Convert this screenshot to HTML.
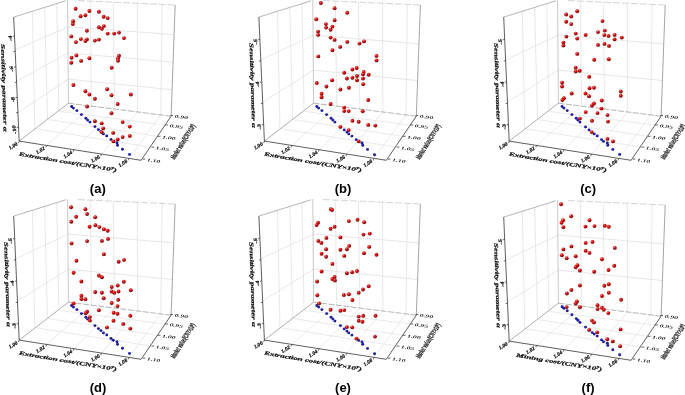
<!DOCTYPE html>
<html><head><meta charset="utf-8"><title>Figure</title>
<style>html,body{margin:0;padding:0;background:#fff}svg{display:block}</style></head><body>
<svg width="685" height="395" viewBox="0 0 685 395">
<defs>
<radialGradient id="rg" cx="0.35" cy="0.3" r="0.7"><stop offset="0" stop-color="#ff8a80"/><stop offset="0.35" stop-color="#e01818"/><stop offset="1" stop-color="#7a0000"/></radialGradient>
<radialGradient id="bg" cx="0.4" cy="0.35" r="0.7"><stop offset="0" stop-color="#3030d0"/><stop offset="1" stop-color="#000070"/></radialGradient>
<filter id="bl" x="0" y="0" width="100%" height="100%" filterUnits="userSpaceOnUse"><feGaussianBlur stdDeviation="0.45"/></filter>
</defs>
<rect width="685" height="395" fill="#fff"/>
<g filter="url(#bl)">
<g transform="translate(0,0)">
<line x1="32.30" y1="11.20" x2="34.80" y2="129.08" stroke="#dcdcdc" stroke-width="0.65" />
<line x1="44.60" y1="7.30" x2="47.50" y2="119.30" stroke="#dcdcdc" stroke-width="0.65" />
<line x1="56.70" y1="3.46" x2="58.90" y2="110.52" stroke="#dcdcdc" stroke-width="0.65" />
<line x1="90.20" y1="1.05" x2="91.50" y2="106.12" stroke="#dcdcdc" stroke-width="0.65" />
<line x1="113.20" y1="2.12" x2="114.60" y2="109.05" stroke="#dcdcdc" stroke-width="0.65" />
<line x1="137.30" y1="3.24" x2="137.70" y2="111.97" stroke="#dcdcdc" stroke-width="0.65" />
<line x1="162.10" y1="4.39" x2="160.80" y2="114.90" stroke="#dcdcdc" stroke-width="0.65" />
<line x1="68.40" y1="26.90" x2="174.11" y2="34.60" stroke="#dadada" stroke-width="0.65" />
<line x1="68.40" y1="26.90" x2="15.16" y2="49.90" stroke="#dcdcdc" stroke-width="0.65" />
<line x1="68.40" y1="52.90" x2="173.09" y2="62.20" stroke="#dadada" stroke-width="0.65" />
<line x1="68.40" y1="52.90" x2="16.55" y2="81.27" stroke="#dcdcdc" stroke-width="0.65" />
<line x1="68.40" y1="79.10" x2="172.07" y2="89.80" stroke="#dadada" stroke-width="0.65" />
<line x1="68.40" y1="79.10" x2="17.93" y2="112.57" stroke="#dcdcdc" stroke-width="0.65" />
<line x1="46.60" y1="145.40" x2="91.50" y2="106.10" stroke="#dcdcdc" stroke-width="0.6" />
<line x1="74.00" y1="149.70" x2="114.60" y2="109.00" stroke="#dcdcdc" stroke-width="0.6" />
<line x1="101.50" y1="154.10" x2="137.70" y2="112.00" stroke="#dcdcdc" stroke-width="0.6" />
<line x1="128.90" y1="158.40" x2="160.80" y2="114.90" stroke="#dcdcdc" stroke-width="0.6" />
<line x1="59.30" y1="111.40" x2="165.40" y2="125.10" stroke="#dcdcdc" stroke-width="0.6" />
<line x1="48.50" y1="119.60" x2="157.90" y2="136.40" stroke="#dcdcdc" stroke-width="0.6" />
<line x1="36.50" y1="128.90" x2="151.60" y2="147.20" stroke="#dcdcdc" stroke-width="0.6" />
<line x1="67.60" y1="0.00" x2="68.40" y2="103.20" stroke="#b0b0b0" stroke-width="0.7" />
<line x1="78.00" y1="0.55" x2="175.20" y2="5.00" stroke="#b8b8b8" stroke-width="0.6" stroke-dasharray="7 2"/>
<line x1="68.40" y1="103.20" x2="171.10" y2="116.20" stroke="#8c8c8c" stroke-width="0.65" stroke-dasharray="6 1.5"/>
<line x1="19.20" y1="141.10" x2="68.40" y2="103.20" stroke="#8c8c8c" stroke-width="0.7" />
<line x1="13.70" y1="17.10" x2="65.80" y2="0.80" stroke="#969696" stroke-width="0.7" />
<line x1="175.20" y1="5.00" x2="171.10" y2="116.20" stroke="#808080" stroke-width="0.7" />
<line x1="13.70" y1="17.10" x2="19.20" y2="141.10" stroke="#2a2a2a" stroke-width="0.75" />
<line x1="19.20" y1="141.10" x2="141.10" y2="160.30" stroke="#2a2a2a" stroke-width="0.75" />
<line x1="171.10" y1="116.20" x2="141.10" y2="160.30" stroke="#2a2a2a" stroke-width="0.75" />
<line x1="170.40" y1="115.60" x2="173.00" y2="115.40" stroke="#2a2a2a" stroke-width="0.7" />
<line x1="165.40" y1="125.10" x2="168.00" y2="124.90" stroke="#2a2a2a" stroke-width="0.7" />
<line x1="157.90" y1="136.40" x2="160.50" y2="136.20" stroke="#2a2a2a" stroke-width="0.7" />
<line x1="151.60" y1="147.20" x2="154.20" y2="147.00" stroke="#2a2a2a" stroke-width="0.7" />
<line x1="142.80" y1="159.20" x2="145.40" y2="159.00" stroke="#2a2a2a" stroke-width="0.7" />
<line x1="19.20" y1="141.10" x2="18.40" y2="143.10" stroke="#2a2a2a" stroke-width="0.7" />
<line x1="46.60" y1="145.40" x2="45.80" y2="147.40" stroke="#2a2a2a" stroke-width="0.7" />
<line x1="74.00" y1="149.70" x2="73.20" y2="151.70" stroke="#2a2a2a" stroke-width="0.7" />
<line x1="101.50" y1="154.10" x2="100.70" y2="156.10" stroke="#2a2a2a" stroke-width="0.7" />
<line x1="128.90" y1="158.40" x2="128.10" y2="160.40" stroke="#2a2a2a" stroke-width="0.7" />
<line x1="14.54" y1="36.00" x2="12.74" y2="36.30" stroke="#2a2a2a" stroke-width="0.7" />
<line x1="15.22" y1="51.40" x2="13.42" y2="51.70" stroke="#2a2a2a" stroke-width="0.7" />
<line x1="15.90" y1="66.80" x2="14.10" y2="67.10" stroke="#2a2a2a" stroke-width="0.7" />
<line x1="16.59" y1="82.20" x2="14.79" y2="82.50" stroke="#2a2a2a" stroke-width="0.7" />
<line x1="17.26" y1="97.40" x2="15.46" y2="97.70" stroke="#2a2a2a" stroke-width="0.7" />
<line x1="17.93" y1="112.40" x2="16.13" y2="112.70" stroke="#2a2a2a" stroke-width="0.7" />
<line x1="18.59" y1="127.40" x2="16.79" y2="127.70" stroke="#2a2a2a" stroke-width="0.7" />
<text font-family="Liberation Serif, serif" font-weight="bold" font-style="italic" fill="#111" stroke="#111" stroke-width="0.22" font-size="4.8" text-anchor="middle" transform="translate(11.8,38.0) rotate(-100) scale(1.35,1)" >-4</text>
<text font-family="Liberation Serif, serif" font-weight="bold" font-style="italic" fill="#111" stroke="#111" stroke-width="0.22" font-size="4.8" text-anchor="middle" transform="translate(13.2,68.8) rotate(-100) scale(1.35,1)" >-6</text>
<text font-family="Liberation Serif, serif" font-weight="bold" font-style="italic" fill="#111" stroke="#111" stroke-width="0.22" font-size="4.8" text-anchor="middle" transform="translate(14.6,99.4) rotate(-100) scale(1.35,1)" >-8</text>
<text font-family="Liberation Serif, serif" font-weight="bold" font-style="italic" fill="#111" stroke="#111" stroke-width="0.22" font-size="4.8" text-anchor="middle" transform="translate(15.9,129.4) rotate(-100) scale(1.35,1)" >-10</text>
<text font-family="Liberation Serif, serif" font-weight="bold" font-style="italic" fill="#222" font-size="4.2" textLength="13.5" lengthAdjust="spacingAndGlyphs" transform="translate(174.4,117.6) rotate(7)">0.90</text>
<text font-family="Liberation Serif, serif" font-weight="bold" font-style="italic" fill="#222" font-size="4.2" textLength="13.5" lengthAdjust="spacingAndGlyphs" transform="translate(169.4,127.1) rotate(7)">0.95</text>
<text font-family="Liberation Serif, serif" font-weight="bold" font-style="italic" fill="#222" font-size="4.2" textLength="13.5" lengthAdjust="spacingAndGlyphs" transform="translate(161.9,138.4) rotate(7)">1.00</text>
<text font-family="Liberation Serif, serif" font-weight="bold" font-style="italic" fill="#222" font-size="4.2" textLength="13.5" lengthAdjust="spacingAndGlyphs" transform="translate(155.6,149.2) rotate(7)">1.05</text>
<text font-family="Liberation Serif, serif" font-weight="bold" font-style="italic" fill="#222" font-size="4.2" textLength="13.5" lengthAdjust="spacingAndGlyphs" transform="translate(146.8,161.2) rotate(7)">1.10</text>
<text font-family="Liberation Serif, serif" font-weight="bold" font-style="italic" fill="#111" stroke="#111" stroke-width="0.22" font-size="5.2" text-anchor="end" textLength="9.5" lengthAdjust="spacingAndGlyphs" transform="translate(18.0,144.8) rotate(-32)">1.00</text>
<text font-family="Liberation Serif, serif" font-weight="bold" font-style="italic" fill="#111" stroke="#111" stroke-width="0.22" font-size="5.2" text-anchor="end" textLength="9.5" lengthAdjust="spacingAndGlyphs" transform="translate(45.4,149.1) rotate(-32)">1.02</text>
<text font-family="Liberation Serif, serif" font-weight="bold" font-style="italic" fill="#111" stroke="#111" stroke-width="0.22" font-size="5.2" text-anchor="end" textLength="9.5" lengthAdjust="spacingAndGlyphs" transform="translate(72.8,153.4) rotate(-32)">1.04</text>
<text font-family="Liberation Serif, serif" font-weight="bold" font-style="italic" fill="#111" stroke="#111" stroke-width="0.22" font-size="5.2" text-anchor="end" textLength="9.5" lengthAdjust="spacingAndGlyphs" transform="translate(100.3,157.8) rotate(-32)">1.06</text>
<text font-family="Liberation Serif, serif" font-weight="bold" font-style="italic" fill="#111" stroke="#111" stroke-width="0.22" font-size="5.2" text-anchor="end" textLength="9.5" lengthAdjust="spacingAndGlyphs" transform="translate(127.7,162.1) rotate(-32)">1.08</text>
<text font-family="Liberation Serif, serif" font-weight="bold" font-style="italic" fill="#111" stroke="#111" stroke-width="0.22" font-size="5.2" textLength="99" lengthAdjust="spacingAndGlyphs" transform="translate(18.7,155.6) rotate(9.5)">Extraction cost/(CNY×10<tspan font-size="3.6" dy="-1.8">7</tspan><tspan dy="1.8">)</tspan></text>
<text font-family="Liberation Serif, serif" font-weight="bold" font-style="italic" fill="#111" stroke="#111" stroke-width="0.22" font-size="5.6" textLength="88" lengthAdjust="spacingAndGlyphs" transform="translate(1.0,44) rotate(88.2)">Sensitivity parameter α</text>
<text font-family="Liberation Sans, sans-serif" font-weight="bold" fill="#222" stroke="#222" stroke-width="0.25" font-size="7.4" textLength="40" lengthAdjust="spacingAndGlyphs" transform="translate(174.5,160) rotate(-58)">Market value/(CNY×10<tspan font-size="4.2" dy="-2.2">8</tspan><tspan dy="2.2">)</tspan></text>
</g>
<g>
<circle cx="71.6" cy="106.5" r="1.45" fill="url(#bg)"/>
<circle cx="73.4" cy="108.1" r="1.45" fill="url(#bg)"/>
<circle cx="76.9" cy="110.6" r="1.45" fill="url(#bg)"/>
<circle cx="81.4" cy="114.6" r="1.45" fill="url(#bg)"/>
<circle cx="85.9" cy="118.3" r="1.45" fill="url(#bg)"/>
<circle cx="87.6" cy="120.1" r="1.45" fill="url(#bg)"/>
<circle cx="89.9" cy="122.1" r="1.45" fill="url(#bg)"/>
<circle cx="94.9" cy="126.6" r="1.45" fill="url(#bg)"/>
<circle cx="98.4" cy="129.6" r="1.45" fill="url(#bg)"/>
<circle cx="100.9" cy="131.6" r="1.45" fill="url(#bg)"/>
<circle cx="103.4" cy="133.9" r="1.45" fill="url(#bg)"/>
<circle cx="106.7" cy="135.9" r="1.45" fill="url(#bg)"/>
<circle cx="111.0" cy="139.4" r="1.45" fill="url(#bg)"/>
<circle cx="117.0" cy="142.7" r="1.45" fill="url(#bg)"/>
<circle cx="117.5" cy="145.2" r="1.45" fill="url(#bg)"/>
<circle cx="122.5" cy="149.2" r="1.45" fill="url(#bg)"/>
<circle cx="129.5" cy="154.4" r="1.45" fill="url(#bg)"/>
<circle cx="75.6" cy="8.8" r="1.95" fill="url(#rg)"/>
<circle cx="89.4" cy="11.0" r="1.95" fill="url(#rg)"/>
<circle cx="98.9" cy="11.8" r="1.95" fill="url(#rg)"/>
<circle cx="80.6" cy="16.3" r="1.95" fill="url(#rg)"/>
<circle cx="85.4" cy="15.3" r="1.95" fill="url(#rg)"/>
<circle cx="103.7" cy="16.8" r="1.95" fill="url(#rg)"/>
<circle cx="107.7" cy="18.1" r="1.95" fill="url(#rg)"/>
<circle cx="73.1" cy="21.3" r="1.95" fill="url(#rg)"/>
<circle cx="72.8" cy="24.1" r="1.95" fill="url(#rg)"/>
<circle cx="98.9" cy="27.3" r="1.95" fill="url(#rg)"/>
<circle cx="103.9" cy="26.1" r="1.95" fill="url(#rg)"/>
<circle cx="101.9" cy="28.8" r="1.95" fill="url(#rg)"/>
<circle cx="86.9" cy="30.8" r="1.95" fill="url(#rg)"/>
<circle cx="107.7" cy="33.6" r="1.95" fill="url(#rg)"/>
<circle cx="114.2" cy="33.6" r="1.95" fill="url(#rg)"/>
<circle cx="119.0" cy="32.6" r="1.95" fill="url(#rg)"/>
<circle cx="124.0" cy="38.1" r="1.95" fill="url(#rg)"/>
<circle cx="71.3" cy="36.4" r="1.95" fill="url(#rg)"/>
<circle cx="75.9" cy="42.1" r="1.95" fill="url(#rg)"/>
<circle cx="80.9" cy="39.1" r="1.95" fill="url(#rg)"/>
<circle cx="86.9" cy="39.4" r="1.95" fill="url(#rg)"/>
<circle cx="85.4" cy="41.1" r="1.95" fill="url(#rg)"/>
<circle cx="94.9" cy="40.6" r="1.95" fill="url(#rg)"/>
<circle cx="98.9" cy="39.6" r="1.95" fill="url(#rg)"/>
<circle cx="76.4" cy="55.4" r="1.95" fill="url(#rg)"/>
<circle cx="71.6" cy="57.7" r="1.95" fill="url(#rg)"/>
<circle cx="71.3" cy="62.7" r="1.95" fill="url(#rg)"/>
<circle cx="81.1" cy="60.9" r="1.95" fill="url(#rg)"/>
<circle cx="89.4" cy="58.2" r="1.95" fill="url(#rg)"/>
<circle cx="119.0" cy="55.7" r="1.95" fill="url(#rg)"/>
<circle cx="118.0" cy="58.2" r="1.95" fill="url(#rg)"/>
<circle cx="118.0" cy="60.7" r="1.95" fill="url(#rg)"/>
<circle cx="111.7" cy="67.7" r="1.95" fill="url(#rg)"/>
<circle cx="73.4" cy="85.0" r="1.95" fill="url(#rg)"/>
<circle cx="85.4" cy="91.3" r="1.95" fill="url(#rg)"/>
<circle cx="89.4" cy="94.5" r="1.95" fill="url(#rg)"/>
<circle cx="107.2" cy="89.3" r="1.95" fill="url(#rg)"/>
<circle cx="111.5" cy="95.3" r="1.95" fill="url(#rg)"/>
<circle cx="130.8" cy="94.5" r="1.95" fill="url(#rg)"/>
<circle cx="94.9" cy="98.8" r="1.95" fill="url(#rg)"/>
<circle cx="117.7" cy="104.0" r="1.95" fill="url(#rg)"/>
<circle cx="87.1" cy="106.5" r="1.95" fill="url(#rg)"/>
<circle cx="111.5" cy="113.3" r="1.95" fill="url(#rg)"/>
<circle cx="94.9" cy="121.3" r="1.95" fill="url(#rg)"/>
<circle cx="101.7" cy="123.4" r="1.95" fill="url(#rg)"/>
<circle cx="122.7" cy="122.1" r="1.95" fill="url(#rg)"/>
<circle cx="129.8" cy="126.6" r="1.95" fill="url(#rg)"/>
<circle cx="103.2" cy="128.4" r="1.95" fill="url(#rg)"/>
<circle cx="101.7" cy="132.1" r="1.95" fill="url(#rg)"/>
<circle cx="113.2" cy="132.9" r="1.95" fill="url(#rg)"/>
<circle cx="129.8" cy="135.9" r="1.95" fill="url(#rg)"/>
<circle cx="122.7" cy="137.1" r="1.95" fill="url(#rg)"/>
<circle cx="117.7" cy="139.4" r="1.95" fill="url(#rg)"/>
<circle cx="113.5" cy="141.4" r="1.95" fill="url(#rg)"/>
</g>
<text x="97.8" y="192.8" text-anchor="middle" font-family="Liberation Sans, sans-serif" font-weight="bold" font-size="13" fill="#000">(a)</text>
<g transform="translate(245.2,0)">
<line x1="32.30" y1="11.20" x2="34.80" y2="129.08" stroke="#dcdcdc" stroke-width="0.65" />
<line x1="44.60" y1="7.30" x2="47.50" y2="119.30" stroke="#dcdcdc" stroke-width="0.65" />
<line x1="56.70" y1="3.46" x2="58.90" y2="110.52" stroke="#dcdcdc" stroke-width="0.65" />
<line x1="90.20" y1="1.05" x2="91.50" y2="106.12" stroke="#dcdcdc" stroke-width="0.65" />
<line x1="113.20" y1="2.12" x2="114.60" y2="109.05" stroke="#dcdcdc" stroke-width="0.65" />
<line x1="137.30" y1="3.24" x2="137.70" y2="111.97" stroke="#dcdcdc" stroke-width="0.65" />
<line x1="162.10" y1="4.39" x2="160.80" y2="114.90" stroke="#dcdcdc" stroke-width="0.65" />
<line x1="68.40" y1="35.10" x2="173.77" y2="43.90" stroke="#dadada" stroke-width="0.65" />
<line x1="68.40" y1="35.10" x2="15.60" y2="59.83" stroke="#dcdcdc" stroke-width="0.65" />
<line x1="68.40" y1="70.20" x2="172.42" y2="80.50" stroke="#dadada" stroke-width="0.65" />
<line x1="68.40" y1="70.20" x2="17.46" y2="101.97" stroke="#dcdcdc" stroke-width="0.65" />
<line x1="46.60" y1="145.40" x2="91.50" y2="106.10" stroke="#dcdcdc" stroke-width="0.6" />
<line x1="74.00" y1="149.70" x2="114.60" y2="109.00" stroke="#dcdcdc" stroke-width="0.6" />
<line x1="101.50" y1="154.10" x2="137.70" y2="112.00" stroke="#dcdcdc" stroke-width="0.6" />
<line x1="128.90" y1="158.40" x2="160.80" y2="114.90" stroke="#dcdcdc" stroke-width="0.6" />
<line x1="59.30" y1="111.40" x2="165.40" y2="125.10" stroke="#dcdcdc" stroke-width="0.6" />
<line x1="48.50" y1="119.60" x2="157.90" y2="136.40" stroke="#dcdcdc" stroke-width="0.6" />
<line x1="36.50" y1="128.90" x2="151.60" y2="147.20" stroke="#dcdcdc" stroke-width="0.6" />
<line x1="67.60" y1="0.00" x2="68.40" y2="103.20" stroke="#b0b0b0" stroke-width="0.7" />
<line x1="78.00" y1="0.55" x2="175.20" y2="5.00" stroke="#b8b8b8" stroke-width="0.6" stroke-dasharray="7 2"/>
<line x1="68.40" y1="103.20" x2="171.10" y2="116.20" stroke="#8c8c8c" stroke-width="0.65" stroke-dasharray="6 1.5"/>
<line x1="19.20" y1="141.10" x2="68.40" y2="103.20" stroke="#8c8c8c" stroke-width="0.7" />
<line x1="13.70" y1="17.10" x2="65.80" y2="0.80" stroke="#969696" stroke-width="0.7" />
<line x1="175.20" y1="5.00" x2="171.10" y2="116.20" stroke="#808080" stroke-width="0.7" />
<line x1="13.70" y1="17.10" x2="19.20" y2="141.10" stroke="#2a2a2a" stroke-width="0.75" />
<line x1="19.20" y1="141.10" x2="141.10" y2="160.30" stroke="#2a2a2a" stroke-width="0.75" />
<line x1="171.10" y1="116.20" x2="141.10" y2="160.30" stroke="#2a2a2a" stroke-width="0.75" />
<line x1="170.40" y1="115.60" x2="173.00" y2="115.40" stroke="#2a2a2a" stroke-width="0.7" />
<line x1="165.40" y1="125.10" x2="168.00" y2="124.90" stroke="#2a2a2a" stroke-width="0.7" />
<line x1="157.90" y1="136.40" x2="160.50" y2="136.20" stroke="#2a2a2a" stroke-width="0.7" />
<line x1="151.60" y1="147.20" x2="154.20" y2="147.00" stroke="#2a2a2a" stroke-width="0.7" />
<line x1="142.80" y1="159.20" x2="145.40" y2="159.00" stroke="#2a2a2a" stroke-width="0.7" />
<line x1="19.20" y1="141.10" x2="18.40" y2="143.10" stroke="#2a2a2a" stroke-width="0.7" />
<line x1="46.60" y1="145.40" x2="45.80" y2="147.40" stroke="#2a2a2a" stroke-width="0.7" />
<line x1="74.00" y1="149.70" x2="73.20" y2="151.70" stroke="#2a2a2a" stroke-width="0.7" />
<line x1="101.50" y1="154.10" x2="100.70" y2="156.10" stroke="#2a2a2a" stroke-width="0.7" />
<line x1="128.90" y1="158.40" x2="128.10" y2="160.40" stroke="#2a2a2a" stroke-width="0.7" />
<line x1="14.69" y1="39.50" x2="12.89" y2="39.80" stroke="#2a2a2a" stroke-width="0.7" />
<line x1="15.64" y1="60.80" x2="13.84" y2="61.10" stroke="#2a2a2a" stroke-width="0.7" />
<line x1="16.58" y1="82.00" x2="14.78" y2="82.30" stroke="#2a2a2a" stroke-width="0.7" />
<line x1="17.52" y1="103.30" x2="15.72" y2="103.60" stroke="#2a2a2a" stroke-width="0.7" />
<line x1="18.46" y1="124.50" x2="16.66" y2="124.80" stroke="#2a2a2a" stroke-width="0.7" />
<text font-family="Liberation Serif, serif" font-weight="bold" font-style="italic" fill="#111" stroke="#111" stroke-width="0.22" font-size="4.8" text-anchor="middle" transform="translate(12.0,41.5) rotate(-100) scale(1.35,1)" >-5</text>
<text font-family="Liberation Serif, serif" font-weight="bold" font-style="italic" fill="#111" stroke="#111" stroke-width="0.22" font-size="4.8" text-anchor="middle" transform="translate(13.9,84.0) rotate(-100) scale(1.35,1)" >-4</text>
<text font-family="Liberation Serif, serif" font-weight="bold" font-style="italic" fill="#111" stroke="#111" stroke-width="0.22" font-size="4.8" text-anchor="middle" transform="translate(15.8,126.5) rotate(-100) scale(1.35,1)" >-3</text>
<text font-family="Liberation Serif, serif" font-weight="bold" font-style="italic" fill="#222" font-size="4.2" textLength="13.5" lengthAdjust="spacingAndGlyphs" transform="translate(174.4,117.6) rotate(7)">0.90</text>
<text font-family="Liberation Serif, serif" font-weight="bold" font-style="italic" fill="#222" font-size="4.2" textLength="13.5" lengthAdjust="spacingAndGlyphs" transform="translate(169.4,127.1) rotate(7)">0.95</text>
<text font-family="Liberation Serif, serif" font-weight="bold" font-style="italic" fill="#222" font-size="4.2" textLength="13.5" lengthAdjust="spacingAndGlyphs" transform="translate(161.9,138.4) rotate(7)">1.00</text>
<text font-family="Liberation Serif, serif" font-weight="bold" font-style="italic" fill="#222" font-size="4.2" textLength="13.5" lengthAdjust="spacingAndGlyphs" transform="translate(155.6,149.2) rotate(7)">1.05</text>
<text font-family="Liberation Serif, serif" font-weight="bold" font-style="italic" fill="#222" font-size="4.2" textLength="13.5" lengthAdjust="spacingAndGlyphs" transform="translate(146.8,161.2) rotate(7)">1.10</text>
<text font-family="Liberation Serif, serif" font-weight="bold" font-style="italic" fill="#111" stroke="#111" stroke-width="0.22" font-size="5.2" text-anchor="end" textLength="9.5" lengthAdjust="spacingAndGlyphs" transform="translate(18.0,144.8) rotate(-32)">1.00</text>
<text font-family="Liberation Serif, serif" font-weight="bold" font-style="italic" fill="#111" stroke="#111" stroke-width="0.22" font-size="5.2" text-anchor="end" textLength="9.5" lengthAdjust="spacingAndGlyphs" transform="translate(45.4,149.1) rotate(-32)">1.02</text>
<text font-family="Liberation Serif, serif" font-weight="bold" font-style="italic" fill="#111" stroke="#111" stroke-width="0.22" font-size="5.2" text-anchor="end" textLength="9.5" lengthAdjust="spacingAndGlyphs" transform="translate(72.8,153.4) rotate(-32)">1.04</text>
<text font-family="Liberation Serif, serif" font-weight="bold" font-style="italic" fill="#111" stroke="#111" stroke-width="0.22" font-size="5.2" text-anchor="end" textLength="9.5" lengthAdjust="spacingAndGlyphs" transform="translate(100.3,157.8) rotate(-32)">1.06</text>
<text font-family="Liberation Serif, serif" font-weight="bold" font-style="italic" fill="#111" stroke="#111" stroke-width="0.22" font-size="5.2" text-anchor="end" textLength="9.5" lengthAdjust="spacingAndGlyphs" transform="translate(127.7,162.1) rotate(-32)">1.08</text>
<text font-family="Liberation Serif, serif" font-weight="bold" font-style="italic" fill="#111" stroke="#111" stroke-width="0.22" font-size="5.2" textLength="99" lengthAdjust="spacingAndGlyphs" transform="translate(18.7,155.6) rotate(9.5)">Extraction cost/(CNY×10<tspan font-size="3.6" dy="-1.8">7</tspan><tspan dy="1.8">)</tspan></text>
<text font-family="Liberation Serif, serif" font-weight="bold" font-style="italic" fill="#111" stroke="#111" stroke-width="0.22" font-size="5.6" textLength="85" lengthAdjust="spacingAndGlyphs" transform="translate(4.3,43) rotate(88.2)">Sensitivity parameter α</text>
<text font-family="Liberation Sans, sans-serif" font-weight="bold" fill="#222" stroke="#222" stroke-width="0.25" font-size="7.4" textLength="40" lengthAdjust="spacingAndGlyphs" transform="translate(174.5,160) rotate(-58)">Market value/(CNY×10<tspan font-size="4.2" dy="-2.2">8</tspan><tspan dy="2.2">)</tspan></text>
</g>
<g>
<circle cx="316.8" cy="106.5" r="1.45" fill="url(#bg)"/>
<circle cx="318.6" cy="108.1" r="1.45" fill="url(#bg)"/>
<circle cx="321.9" cy="110.6" r="1.45" fill="url(#bg)"/>
<circle cx="326.6" cy="114.6" r="1.45" fill="url(#bg)"/>
<circle cx="331.1" cy="118.3" r="1.45" fill="url(#bg)"/>
<circle cx="332.9" cy="120.1" r="1.45" fill="url(#bg)"/>
<circle cx="334.9" cy="122.1" r="1.45" fill="url(#bg)"/>
<circle cx="344.2" cy="129.9" r="1.45" fill="url(#bg)"/>
<circle cx="346.9" cy="132.1" r="1.45" fill="url(#bg)"/>
<circle cx="348.7" cy="133.9" r="1.45" fill="url(#bg)"/>
<circle cx="351.9" cy="136.1" r="1.45" fill="url(#bg)"/>
<circle cx="356.2" cy="139.6" r="1.45" fill="url(#bg)"/>
<circle cx="362.0" cy="142.9" r="1.45" fill="url(#bg)"/>
<circle cx="362.7" cy="145.2" r="1.45" fill="url(#bg)"/>
<circle cx="367.5" cy="149.4" r="1.45" fill="url(#bg)"/>
<circle cx="374.5" cy="154.7" r="1.45" fill="url(#bg)"/>
<circle cx="320.9" cy="3.0" r="1.95" fill="url(#rg)"/>
<circle cx="334.6" cy="8.3" r="1.95" fill="url(#rg)"/>
<circle cx="347.2" cy="12.8" r="1.95" fill="url(#rg)"/>
<circle cx="316.3" cy="19.3" r="1.95" fill="url(#rg)"/>
<circle cx="334.6" cy="20.3" r="1.95" fill="url(#rg)"/>
<circle cx="325.9" cy="24.1" r="1.95" fill="url(#rg)"/>
<circle cx="332.4" cy="26.6" r="1.95" fill="url(#rg)"/>
<circle cx="326.1" cy="27.6" r="1.95" fill="url(#rg)"/>
<circle cx="330.6" cy="29.8" r="1.95" fill="url(#rg)"/>
<circle cx="318.1" cy="31.6" r="1.95" fill="url(#rg)"/>
<circle cx="318.1" cy="34.9" r="1.95" fill="url(#rg)"/>
<circle cx="330.6" cy="37.6" r="1.95" fill="url(#rg)"/>
<circle cx="334.6" cy="39.9" r="1.95" fill="url(#rg)"/>
<circle cx="347.2" cy="41.9" r="1.95" fill="url(#rg)"/>
<circle cx="359.5" cy="43.6" r="1.95" fill="url(#rg)"/>
<circle cx="364.0" cy="41.4" r="1.95" fill="url(#rg)"/>
<circle cx="340.2" cy="46.9" r="1.95" fill="url(#rg)"/>
<circle cx="332.4" cy="50.2" r="1.95" fill="url(#rg)"/>
<circle cx="318.3" cy="56.4" r="1.95" fill="url(#rg)"/>
<circle cx="376.5" cy="55.9" r="1.95" fill="url(#rg)"/>
<circle cx="376.5" cy="60.4" r="1.95" fill="url(#rg)"/>
<circle cx="352.4" cy="69.5" r="1.95" fill="url(#rg)"/>
<circle cx="356.7" cy="68.0" r="1.95" fill="url(#rg)"/>
<circle cx="344.2" cy="72.7" r="1.95" fill="url(#rg)"/>
<circle cx="363.7" cy="72.0" r="1.95" fill="url(#rg)"/>
<circle cx="363.0" cy="74.2" r="1.95" fill="url(#rg)"/>
<circle cx="368.7" cy="74.7" r="1.95" fill="url(#rg)"/>
<circle cx="357.0" cy="76.0" r="1.95" fill="url(#rg)"/>
<circle cx="352.4" cy="77.7" r="1.95" fill="url(#rg)"/>
<circle cx="346.9" cy="78.5" r="1.95" fill="url(#rg)"/>
<circle cx="363.0" cy="78.5" r="1.95" fill="url(#rg)"/>
<circle cx="357.0" cy="80.2" r="1.95" fill="url(#rg)"/>
<circle cx="332.1" cy="80.2" r="1.95" fill="url(#rg)"/>
<circle cx="316.8" cy="83.0" r="1.95" fill="url(#rg)"/>
<circle cx="363.2" cy="84.3" r="1.95" fill="url(#rg)"/>
<circle cx="326.4" cy="86.5" r="1.95" fill="url(#rg)"/>
<circle cx="348.9" cy="87.8" r="1.95" fill="url(#rg)"/>
<circle cx="340.4" cy="89.5" r="1.95" fill="url(#rg)"/>
<circle cx="321.6" cy="93.8" r="1.95" fill="url(#rg)"/>
<circle cx="321.6" cy="97.3" r="1.95" fill="url(#rg)"/>
<circle cx="368.2" cy="100.0" r="1.95" fill="url(#rg)"/>
<circle cx="330.6" cy="104.0" r="1.95" fill="url(#rg)"/>
<circle cx="344.2" cy="107.6" r="1.95" fill="url(#rg)"/>
<circle cx="344.2" cy="111.1" r="1.95" fill="url(#rg)"/>
<circle cx="348.7" cy="111.1" r="1.95" fill="url(#rg)"/>
<circle cx="362.7" cy="111.3" r="1.95" fill="url(#rg)"/>
<circle cx="352.4" cy="120.8" r="1.95" fill="url(#rg)"/>
<circle cx="358.7" cy="121.8" r="1.95" fill="url(#rg)"/>
<circle cx="368.2" cy="124.9" r="1.95" fill="url(#rg)"/>
<circle cx="375.3" cy="125.6" r="1.95" fill="url(#rg)"/>
<circle cx="340.4" cy="126.9" r="1.95" fill="url(#rg)"/>
<circle cx="348.7" cy="130.1" r="1.95" fill="url(#rg)"/>
<circle cx="358.7" cy="141.4" r="1.95" fill="url(#rg)"/>
</g>
<text x="343" y="192.8" text-anchor="middle" font-family="Liberation Sans, sans-serif" font-weight="bold" font-size="13" fill="#000">(b)</text>
<g transform="translate(490,0)">
<line x1="32.30" y1="11.20" x2="34.80" y2="129.08" stroke="#dcdcdc" stroke-width="0.65" />
<line x1="44.60" y1="7.30" x2="47.50" y2="119.30" stroke="#dcdcdc" stroke-width="0.65" />
<line x1="56.70" y1="3.46" x2="58.90" y2="110.52" stroke="#dcdcdc" stroke-width="0.65" />
<line x1="90.20" y1="1.05" x2="91.50" y2="106.12" stroke="#dcdcdc" stroke-width="0.65" />
<line x1="113.20" y1="2.12" x2="114.60" y2="109.05" stroke="#dcdcdc" stroke-width="0.65" />
<line x1="137.30" y1="3.24" x2="137.70" y2="111.97" stroke="#dcdcdc" stroke-width="0.65" />
<line x1="162.10" y1="4.39" x2="160.80" y2="114.90" stroke="#dcdcdc" stroke-width="0.65" />
<line x1="68.40" y1="35.10" x2="173.77" y2="43.90" stroke="#dadada" stroke-width="0.65" />
<line x1="68.40" y1="35.10" x2="15.60" y2="59.83" stroke="#dcdcdc" stroke-width="0.65" />
<line x1="68.40" y1="70.20" x2="172.42" y2="80.50" stroke="#dadada" stroke-width="0.65" />
<line x1="68.40" y1="70.20" x2="17.46" y2="101.97" stroke="#dcdcdc" stroke-width="0.65" />
<line x1="46.60" y1="145.40" x2="91.50" y2="106.10" stroke="#dcdcdc" stroke-width="0.6" />
<line x1="74.00" y1="149.70" x2="114.60" y2="109.00" stroke="#dcdcdc" stroke-width="0.6" />
<line x1="101.50" y1="154.10" x2="137.70" y2="112.00" stroke="#dcdcdc" stroke-width="0.6" />
<line x1="128.90" y1="158.40" x2="160.80" y2="114.90" stroke="#dcdcdc" stroke-width="0.6" />
<line x1="59.30" y1="111.40" x2="165.40" y2="125.10" stroke="#dcdcdc" stroke-width="0.6" />
<line x1="48.50" y1="119.60" x2="157.90" y2="136.40" stroke="#dcdcdc" stroke-width="0.6" />
<line x1="36.50" y1="128.90" x2="151.60" y2="147.20" stroke="#dcdcdc" stroke-width="0.6" />
<line x1="67.60" y1="0.00" x2="68.40" y2="103.20" stroke="#b0b0b0" stroke-width="0.7" />
<line x1="78.00" y1="0.55" x2="175.20" y2="5.00" stroke="#b8b8b8" stroke-width="0.6" stroke-dasharray="7 2"/>
<line x1="68.40" y1="103.20" x2="171.10" y2="116.20" stroke="#8c8c8c" stroke-width="0.65" stroke-dasharray="6 1.5"/>
<line x1="19.20" y1="141.10" x2="68.40" y2="103.20" stroke="#8c8c8c" stroke-width="0.7" />
<line x1="13.70" y1="17.10" x2="65.80" y2="0.80" stroke="#969696" stroke-width="0.7" />
<line x1="175.20" y1="5.00" x2="171.10" y2="116.20" stroke="#808080" stroke-width="0.7" />
<line x1="13.70" y1="17.10" x2="19.20" y2="141.10" stroke="#2a2a2a" stroke-width="0.75" />
<line x1="19.20" y1="141.10" x2="141.10" y2="160.30" stroke="#2a2a2a" stroke-width="0.75" />
<line x1="171.10" y1="116.20" x2="141.10" y2="160.30" stroke="#2a2a2a" stroke-width="0.75" />
<line x1="170.40" y1="115.60" x2="173.00" y2="115.40" stroke="#2a2a2a" stroke-width="0.7" />
<line x1="165.40" y1="125.10" x2="168.00" y2="124.90" stroke="#2a2a2a" stroke-width="0.7" />
<line x1="157.90" y1="136.40" x2="160.50" y2="136.20" stroke="#2a2a2a" stroke-width="0.7" />
<line x1="151.60" y1="147.20" x2="154.20" y2="147.00" stroke="#2a2a2a" stroke-width="0.7" />
<line x1="142.80" y1="159.20" x2="145.40" y2="159.00" stroke="#2a2a2a" stroke-width="0.7" />
<line x1="19.20" y1="141.10" x2="18.40" y2="143.10" stroke="#2a2a2a" stroke-width="0.7" />
<line x1="46.60" y1="145.40" x2="45.80" y2="147.40" stroke="#2a2a2a" stroke-width="0.7" />
<line x1="74.00" y1="149.70" x2="73.20" y2="151.70" stroke="#2a2a2a" stroke-width="0.7" />
<line x1="101.50" y1="154.10" x2="100.70" y2="156.10" stroke="#2a2a2a" stroke-width="0.7" />
<line x1="128.90" y1="158.40" x2="128.10" y2="160.40" stroke="#2a2a2a" stroke-width="0.7" />
<line x1="14.69" y1="39.50" x2="12.89" y2="39.80" stroke="#2a2a2a" stroke-width="0.7" />
<line x1="15.64" y1="60.80" x2="13.84" y2="61.10" stroke="#2a2a2a" stroke-width="0.7" />
<line x1="16.58" y1="82.00" x2="14.78" y2="82.30" stroke="#2a2a2a" stroke-width="0.7" />
<line x1="17.52" y1="103.30" x2="15.72" y2="103.60" stroke="#2a2a2a" stroke-width="0.7" />
<line x1="18.46" y1="124.50" x2="16.66" y2="124.80" stroke="#2a2a2a" stroke-width="0.7" />
<text font-family="Liberation Serif, serif" font-weight="bold" font-style="italic" fill="#111" stroke="#111" stroke-width="0.22" font-size="4.8" text-anchor="middle" transform="translate(12.0,41.5) rotate(-100) scale(1.35,1)" >-5</text>
<text font-family="Liberation Serif, serif" font-weight="bold" font-style="italic" fill="#111" stroke="#111" stroke-width="0.22" font-size="4.8" text-anchor="middle" transform="translate(13.9,84.0) rotate(-100) scale(1.35,1)" >-4</text>
<text font-family="Liberation Serif, serif" font-weight="bold" font-style="italic" fill="#111" stroke="#111" stroke-width="0.22" font-size="4.8" text-anchor="middle" transform="translate(15.8,126.5) rotate(-100) scale(1.35,1)" >-3</text>
<text font-family="Liberation Serif, serif" font-weight="bold" font-style="italic" fill="#222" font-size="4.2" textLength="13.5" lengthAdjust="spacingAndGlyphs" transform="translate(174.4,117.6) rotate(7)">0.90</text>
<text font-family="Liberation Serif, serif" font-weight="bold" font-style="italic" fill="#222" font-size="4.2" textLength="13.5" lengthAdjust="spacingAndGlyphs" transform="translate(169.4,127.1) rotate(7)">0.95</text>
<text font-family="Liberation Serif, serif" font-weight="bold" font-style="italic" fill="#222" font-size="4.2" textLength="13.5" lengthAdjust="spacingAndGlyphs" transform="translate(161.9,138.4) rotate(7)">1.00</text>
<text font-family="Liberation Serif, serif" font-weight="bold" font-style="italic" fill="#222" font-size="4.2" textLength="13.5" lengthAdjust="spacingAndGlyphs" transform="translate(155.6,149.2) rotate(7)">1.05</text>
<text font-family="Liberation Serif, serif" font-weight="bold" font-style="italic" fill="#222" font-size="4.2" textLength="13.5" lengthAdjust="spacingAndGlyphs" transform="translate(146.8,161.2) rotate(7)">1.10</text>
<text font-family="Liberation Serif, serif" font-weight="bold" font-style="italic" fill="#111" stroke="#111" stroke-width="0.22" font-size="5.2" text-anchor="end" textLength="9.5" lengthAdjust="spacingAndGlyphs" transform="translate(18.0,144.8) rotate(-32)">1.00</text>
<text font-family="Liberation Serif, serif" font-weight="bold" font-style="italic" fill="#111" stroke="#111" stroke-width="0.22" font-size="5.2" text-anchor="end" textLength="9.5" lengthAdjust="spacingAndGlyphs" transform="translate(45.4,149.1) rotate(-32)">1.02</text>
<text font-family="Liberation Serif, serif" font-weight="bold" font-style="italic" fill="#111" stroke="#111" stroke-width="0.22" font-size="5.2" text-anchor="end" textLength="9.5" lengthAdjust="spacingAndGlyphs" transform="translate(72.8,153.4) rotate(-32)">1.04</text>
<text font-family="Liberation Serif, serif" font-weight="bold" font-style="italic" fill="#111" stroke="#111" stroke-width="0.22" font-size="5.2" text-anchor="end" textLength="9.5" lengthAdjust="spacingAndGlyphs" transform="translate(100.3,157.8) rotate(-32)">1.06</text>
<text font-family="Liberation Serif, serif" font-weight="bold" font-style="italic" fill="#111" stroke="#111" stroke-width="0.22" font-size="5.2" text-anchor="end" textLength="9.5" lengthAdjust="spacingAndGlyphs" transform="translate(127.7,162.1) rotate(-32)">1.08</text>
<text font-family="Liberation Serif, serif" font-weight="bold" font-style="italic" fill="#111" stroke="#111" stroke-width="0.22" font-size="5.2" textLength="99" lengthAdjust="spacingAndGlyphs" transform="translate(18.7,155.6) rotate(9.5)">Extraction cost/(CNY×10<tspan font-size="3.6" dy="-1.8">7</tspan><tspan dy="1.8">)</tspan></text>
<text font-family="Liberation Serif, serif" font-weight="bold" font-style="italic" fill="#111" stroke="#111" stroke-width="0.22" font-size="5.6" textLength="85" lengthAdjust="spacingAndGlyphs" transform="translate(4.3,43) rotate(88.2)">Sensitivity parameter α</text>
<text font-family="Liberation Sans, sans-serif" font-weight="bold" fill="#222" stroke="#222" stroke-width="0.25" font-size="7.4" textLength="40" lengthAdjust="spacingAndGlyphs" transform="translate(174.5,160) rotate(-58)">Market value/(CNY×10<tspan font-size="4.2" dy="-2.2">8</tspan><tspan dy="2.2">)</tspan></text>
</g>
<g>
<circle cx="562.1" cy="106.5" r="1.45" fill="url(#bg)"/>
<circle cx="563.9" cy="108.1" r="1.45" fill="url(#bg)"/>
<circle cx="567.2" cy="110.6" r="1.45" fill="url(#bg)"/>
<circle cx="571.9" cy="114.6" r="1.45" fill="url(#bg)"/>
<circle cx="576.2" cy="118.3" r="1.45" fill="url(#bg)"/>
<circle cx="577.9" cy="120.1" r="1.45" fill="url(#bg)"/>
<circle cx="579.9" cy="122.1" r="1.45" fill="url(#bg)"/>
<circle cx="585.5" cy="126.9" r="1.45" fill="url(#bg)"/>
<circle cx="589.0" cy="129.9" r="1.45" fill="url(#bg)"/>
<circle cx="594.2" cy="133.9" r="1.45" fill="url(#bg)"/>
<circle cx="597.2" cy="135.9" r="1.45" fill="url(#bg)"/>
<circle cx="601.5" cy="139.6" r="1.45" fill="url(#bg)"/>
<circle cx="603.5" cy="141.4" r="1.45" fill="url(#bg)"/>
<circle cx="607.3" cy="142.9" r="1.45" fill="url(#bg)"/>
<circle cx="607.8" cy="145.2" r="1.45" fill="url(#bg)"/>
<circle cx="612.8" cy="149.4" r="1.45" fill="url(#bg)"/>
<circle cx="619.6" cy="154.4" r="1.45" fill="url(#bg)"/>
<circle cx="577.2" cy="11.3" r="1.95" fill="url(#rg)"/>
<circle cx="566.2" cy="14.5" r="1.95" fill="url(#rg)"/>
<circle cx="571.2" cy="16.5" r="1.95" fill="url(#rg)"/>
<circle cx="602.5" cy="21.1" r="1.95" fill="url(#rg)"/>
<circle cx="566.2" cy="21.8" r="1.95" fill="url(#rg)"/>
<circle cx="571.2" cy="24.1" r="1.95" fill="url(#rg)"/>
<circle cx="604.8" cy="30.6" r="1.95" fill="url(#rg)"/>
<circle cx="598.0" cy="32.1" r="1.95" fill="url(#rg)"/>
<circle cx="575.7" cy="33.6" r="1.95" fill="url(#rg)"/>
<circle cx="585.7" cy="34.9" r="1.95" fill="url(#rg)"/>
<circle cx="604.3" cy="35.1" r="1.95" fill="url(#rg)"/>
<circle cx="608.5" cy="35.9" r="1.95" fill="url(#rg)"/>
<circle cx="614.6" cy="34.9" r="1.95" fill="url(#rg)"/>
<circle cx="566.4" cy="36.6" r="1.95" fill="url(#rg)"/>
<circle cx="577.2" cy="38.6" r="1.95" fill="url(#rg)"/>
<circle cx="621.8" cy="37.6" r="1.95" fill="url(#rg)"/>
<circle cx="614.6" cy="39.4" r="1.95" fill="url(#rg)"/>
<circle cx="563.4" cy="42.6" r="1.95" fill="url(#rg)"/>
<circle cx="563.4" cy="45.6" r="1.95" fill="url(#rg)"/>
<circle cx="598.0" cy="44.9" r="1.95" fill="url(#rg)"/>
<circle cx="604.5" cy="43.9" r="1.95" fill="url(#rg)"/>
<circle cx="609.0" cy="45.9" r="1.95" fill="url(#rg)"/>
<circle cx="577.2" cy="53.9" r="1.95" fill="url(#rg)"/>
<circle cx="594.2" cy="59.7" r="1.95" fill="url(#rg)"/>
<circle cx="608.8" cy="59.2" r="1.95" fill="url(#rg)"/>
<circle cx="575.7" cy="67.7" r="1.95" fill="url(#rg)"/>
<circle cx="575.7" cy="71.5" r="1.95" fill="url(#rg)"/>
<circle cx="579.7" cy="70.7" r="1.95" fill="url(#rg)"/>
<circle cx="589.2" cy="76.7" r="1.95" fill="url(#rg)"/>
<circle cx="562.1" cy="82.7" r="1.95" fill="url(#rg)"/>
<circle cx="562.1" cy="86.5" r="1.95" fill="url(#rg)"/>
<circle cx="589.5" cy="88.3" r="1.95" fill="url(#rg)"/>
<circle cx="594.0" cy="87.8" r="1.95" fill="url(#rg)"/>
<circle cx="571.7" cy="93.5" r="1.95" fill="url(#rg)"/>
<circle cx="585.5" cy="93.5" r="1.95" fill="url(#rg)"/>
<circle cx="589.0" cy="96.3" r="1.95" fill="url(#rg)"/>
<circle cx="620.8" cy="91.5" r="1.95" fill="url(#rg)"/>
<circle cx="620.8" cy="95.8" r="1.95" fill="url(#rg)"/>
<circle cx="563.9" cy="98.3" r="1.95" fill="url(#rg)"/>
<circle cx="562.4" cy="100.0" r="1.95" fill="url(#rg)"/>
<circle cx="601.8" cy="100.5" r="1.95" fill="url(#rg)"/>
<circle cx="594.0" cy="103.5" r="1.95" fill="url(#rg)"/>
<circle cx="592.0" cy="105.5" r="1.95" fill="url(#rg)"/>
<circle cx="601.5" cy="108.6" r="1.95" fill="url(#rg)"/>
<circle cx="585.7" cy="112.1" r="1.95" fill="url(#rg)"/>
<circle cx="597.5" cy="113.1" r="1.95" fill="url(#rg)"/>
<circle cx="607.5" cy="115.1" r="1.95" fill="url(#rg)"/>
<circle cx="579.9" cy="118.6" r="1.95" fill="url(#rg)"/>
<circle cx="592.0" cy="120.8" r="1.95" fill="url(#rg)"/>
<circle cx="608.0" cy="121.6" r="1.95" fill="url(#rg)"/>
<circle cx="591.7" cy="132.1" r="1.95" fill="url(#rg)"/>
<circle cx="607.5" cy="138.9" r="1.95" fill="url(#rg)"/>
<circle cx="613.0" cy="141.4" r="1.95" fill="url(#rg)"/>
</g>
<text x="588.1" y="192.8" text-anchor="middle" font-family="Liberation Sans, sans-serif" font-weight="bold" font-size="13" fill="#000">(c)</text>
<g transform="translate(0,199)">
<line x1="32.30" y1="11.20" x2="34.80" y2="129.08" stroke="#dcdcdc" stroke-width="0.65" />
<line x1="44.60" y1="7.30" x2="47.50" y2="119.30" stroke="#dcdcdc" stroke-width="0.65" />
<line x1="56.70" y1="3.46" x2="58.90" y2="110.52" stroke="#dcdcdc" stroke-width="0.65" />
<line x1="90.20" y1="1.05" x2="91.50" y2="106.12" stroke="#dcdcdc" stroke-width="0.65" />
<line x1="113.20" y1="2.12" x2="114.60" y2="109.05" stroke="#dcdcdc" stroke-width="0.65" />
<line x1="137.30" y1="3.24" x2="137.70" y2="111.97" stroke="#dcdcdc" stroke-width="0.65" />
<line x1="162.10" y1="4.39" x2="160.80" y2="114.90" stroke="#dcdcdc" stroke-width="0.65" />
<line x1="68.40" y1="35.10" x2="173.77" y2="43.90" stroke="#dadada" stroke-width="0.65" />
<line x1="68.40" y1="35.10" x2="15.60" y2="59.83" stroke="#dcdcdc" stroke-width="0.65" />
<line x1="68.40" y1="70.20" x2="172.42" y2="80.50" stroke="#dadada" stroke-width="0.65" />
<line x1="68.40" y1="70.20" x2="17.46" y2="101.97" stroke="#dcdcdc" stroke-width="0.65" />
<line x1="46.60" y1="145.40" x2="91.50" y2="106.10" stroke="#dcdcdc" stroke-width="0.6" />
<line x1="74.00" y1="149.70" x2="114.60" y2="109.00" stroke="#dcdcdc" stroke-width="0.6" />
<line x1="101.50" y1="154.10" x2="137.70" y2="112.00" stroke="#dcdcdc" stroke-width="0.6" />
<line x1="128.90" y1="158.40" x2="160.80" y2="114.90" stroke="#dcdcdc" stroke-width="0.6" />
<line x1="59.30" y1="111.40" x2="165.40" y2="125.10" stroke="#dcdcdc" stroke-width="0.6" />
<line x1="48.50" y1="119.60" x2="157.90" y2="136.40" stroke="#dcdcdc" stroke-width="0.6" />
<line x1="36.50" y1="128.90" x2="151.60" y2="147.20" stroke="#dcdcdc" stroke-width="0.6" />
<line x1="67.60" y1="0.00" x2="68.40" y2="103.20" stroke="#b0b0b0" stroke-width="0.7" />
<line x1="78.00" y1="0.55" x2="175.20" y2="5.00" stroke="#b8b8b8" stroke-width="0.6" stroke-dasharray="7 2"/>
<line x1="68.40" y1="103.20" x2="171.10" y2="116.20" stroke="#8c8c8c" stroke-width="0.65" stroke-dasharray="6 1.5"/>
<line x1="19.20" y1="141.10" x2="68.40" y2="103.20" stroke="#8c8c8c" stroke-width="0.7" />
<line x1="13.70" y1="17.10" x2="65.80" y2="0.80" stroke="#969696" stroke-width="0.7" />
<line x1="175.20" y1="5.00" x2="171.10" y2="116.20" stroke="#808080" stroke-width="0.7" />
<line x1="13.70" y1="17.10" x2="19.20" y2="141.10" stroke="#2a2a2a" stroke-width="0.75" />
<line x1="19.20" y1="141.10" x2="141.10" y2="160.30" stroke="#2a2a2a" stroke-width="0.75" />
<line x1="171.10" y1="116.20" x2="141.10" y2="160.30" stroke="#2a2a2a" stroke-width="0.75" />
<line x1="170.40" y1="115.60" x2="173.00" y2="115.40" stroke="#2a2a2a" stroke-width="0.7" />
<line x1="165.40" y1="125.10" x2="168.00" y2="124.90" stroke="#2a2a2a" stroke-width="0.7" />
<line x1="157.90" y1="136.40" x2="160.50" y2="136.20" stroke="#2a2a2a" stroke-width="0.7" />
<line x1="151.60" y1="147.20" x2="154.20" y2="147.00" stroke="#2a2a2a" stroke-width="0.7" />
<line x1="142.80" y1="159.20" x2="145.40" y2="159.00" stroke="#2a2a2a" stroke-width="0.7" />
<line x1="19.20" y1="141.10" x2="18.40" y2="143.10" stroke="#2a2a2a" stroke-width="0.7" />
<line x1="46.60" y1="145.40" x2="45.80" y2="147.40" stroke="#2a2a2a" stroke-width="0.7" />
<line x1="74.00" y1="149.70" x2="73.20" y2="151.70" stroke="#2a2a2a" stroke-width="0.7" />
<line x1="101.50" y1="154.10" x2="100.70" y2="156.10" stroke="#2a2a2a" stroke-width="0.7" />
<line x1="128.90" y1="158.40" x2="128.10" y2="160.40" stroke="#2a2a2a" stroke-width="0.7" />
<line x1="14.69" y1="39.50" x2="12.89" y2="39.80" stroke="#2a2a2a" stroke-width="0.7" />
<line x1="15.64" y1="60.80" x2="13.84" y2="61.10" stroke="#2a2a2a" stroke-width="0.7" />
<line x1="16.58" y1="82.00" x2="14.78" y2="82.30" stroke="#2a2a2a" stroke-width="0.7" />
<line x1="17.52" y1="103.30" x2="15.72" y2="103.60" stroke="#2a2a2a" stroke-width="0.7" />
<line x1="18.46" y1="124.50" x2="16.66" y2="124.80" stroke="#2a2a2a" stroke-width="0.7" />
<text font-family="Liberation Serif, serif" font-weight="bold" font-style="italic" fill="#111" stroke="#111" stroke-width="0.22" font-size="4.8" text-anchor="middle" transform="translate(12.0,41.5) rotate(-100) scale(1.35,1)" >-5</text>
<text font-family="Liberation Serif, serif" font-weight="bold" font-style="italic" fill="#111" stroke="#111" stroke-width="0.22" font-size="4.8" text-anchor="middle" transform="translate(13.9,84.0) rotate(-100) scale(1.35,1)" >-4</text>
<text font-family="Liberation Serif, serif" font-weight="bold" font-style="italic" fill="#111" stroke="#111" stroke-width="0.22" font-size="4.8" text-anchor="middle" transform="translate(15.8,126.5) rotate(-100) scale(1.35,1)" >-3</text>
<text font-family="Liberation Serif, serif" font-weight="bold" font-style="italic" fill="#222" font-size="4.2" textLength="13.5" lengthAdjust="spacingAndGlyphs" transform="translate(174.4,117.6) rotate(7)">0.90</text>
<text font-family="Liberation Serif, serif" font-weight="bold" font-style="italic" fill="#222" font-size="4.2" textLength="13.5" lengthAdjust="spacingAndGlyphs" transform="translate(169.4,127.1) rotate(7)">0.95</text>
<text font-family="Liberation Serif, serif" font-weight="bold" font-style="italic" fill="#222" font-size="4.2" textLength="13.5" lengthAdjust="spacingAndGlyphs" transform="translate(161.9,138.4) rotate(7)">1.00</text>
<text font-family="Liberation Serif, serif" font-weight="bold" font-style="italic" fill="#222" font-size="4.2" textLength="13.5" lengthAdjust="spacingAndGlyphs" transform="translate(155.6,149.2) rotate(7)">1.05</text>
<text font-family="Liberation Serif, serif" font-weight="bold" font-style="italic" fill="#222" font-size="4.2" textLength="13.5" lengthAdjust="spacingAndGlyphs" transform="translate(146.8,161.2) rotate(7)">1.10</text>
<text font-family="Liberation Serif, serif" font-weight="bold" font-style="italic" fill="#111" stroke="#111" stroke-width="0.22" font-size="5.2" text-anchor="end" textLength="9.5" lengthAdjust="spacingAndGlyphs" transform="translate(18.0,144.8) rotate(-32)">1.00</text>
<text font-family="Liberation Serif, serif" font-weight="bold" font-style="italic" fill="#111" stroke="#111" stroke-width="0.22" font-size="5.2" text-anchor="end" textLength="9.5" lengthAdjust="spacingAndGlyphs" transform="translate(45.4,149.1) rotate(-32)">1.02</text>
<text font-family="Liberation Serif, serif" font-weight="bold" font-style="italic" fill="#111" stroke="#111" stroke-width="0.22" font-size="5.2" text-anchor="end" textLength="9.5" lengthAdjust="spacingAndGlyphs" transform="translate(72.8,153.4) rotate(-32)">1.04</text>
<text font-family="Liberation Serif, serif" font-weight="bold" font-style="italic" fill="#111" stroke="#111" stroke-width="0.22" font-size="5.2" text-anchor="end" textLength="9.5" lengthAdjust="spacingAndGlyphs" transform="translate(100.3,157.8) rotate(-32)">1.06</text>
<text font-family="Liberation Serif, serif" font-weight="bold" font-style="italic" fill="#111" stroke="#111" stroke-width="0.22" font-size="5.2" text-anchor="end" textLength="9.5" lengthAdjust="spacingAndGlyphs" transform="translate(127.7,162.1) rotate(-32)">1.08</text>
<text font-family="Liberation Serif, serif" font-weight="bold" font-style="italic" fill="#111" stroke="#111" stroke-width="0.22" font-size="5.2" textLength="99" lengthAdjust="spacingAndGlyphs" transform="translate(18.7,155.6) rotate(9.5)">Extraction cost/(CNY×10<tspan font-size="3.6" dy="-1.8">7</tspan><tspan dy="1.8">)</tspan></text>
<text font-family="Liberation Serif, serif" font-weight="bold" font-style="italic" fill="#111" stroke="#111" stroke-width="0.22" font-size="5.6" textLength="85" lengthAdjust="spacingAndGlyphs" transform="translate(4.3,43) rotate(88.2)">Sensitivity parameter α</text>
<text font-family="Liberation Sans, sans-serif" font-weight="bold" fill="#222" stroke="#222" stroke-width="0.25" font-size="7.4" textLength="40" lengthAdjust="spacingAndGlyphs" transform="translate(174.5,160) rotate(-58)">Market value/(CNY×10<tspan font-size="4.2" dy="-2.2">8</tspan><tspan dy="2.2">)</tspan></text>
</g>
<g>
<circle cx="71.6" cy="305.5" r="1.45" fill="url(#bg)"/>
<circle cx="73.4" cy="307.1" r="1.45" fill="url(#bg)"/>
<circle cx="76.9" cy="309.6" r="1.45" fill="url(#bg)"/>
<circle cx="81.4" cy="313.6" r="1.45" fill="url(#bg)"/>
<circle cx="85.9" cy="317.3" r="1.45" fill="url(#bg)"/>
<circle cx="87.6" cy="319.1" r="1.45" fill="url(#bg)"/>
<circle cx="94.9" cy="325.6" r="1.45" fill="url(#bg)"/>
<circle cx="98.4" cy="328.6" r="1.45" fill="url(#bg)"/>
<circle cx="100.9" cy="330.6" r="1.45" fill="url(#bg)"/>
<circle cx="103.4" cy="332.9" r="1.45" fill="url(#bg)"/>
<circle cx="106.7" cy="334.9" r="1.45" fill="url(#bg)"/>
<circle cx="111.0" cy="338.4" r="1.45" fill="url(#bg)"/>
<circle cx="113.2" cy="340.2" r="1.45" fill="url(#bg)"/>
<circle cx="117.0" cy="341.7" r="1.45" fill="url(#bg)"/>
<circle cx="117.5" cy="344.2" r="1.45" fill="url(#bg)"/>
<circle cx="122.5" cy="348.2" r="1.45" fill="url(#bg)"/>
<circle cx="129.5" cy="353.4" r="1.45" fill="url(#bg)"/>
<circle cx="71.1" cy="207.3" r="1.95" fill="url(#rg)"/>
<circle cx="85.4" cy="209.3" r="1.95" fill="url(#rg)"/>
<circle cx="87.1" cy="214.0" r="1.95" fill="url(#rg)"/>
<circle cx="76.1" cy="216.8" r="1.95" fill="url(#rg)"/>
<circle cx="95.2" cy="217.3" r="1.95" fill="url(#rg)"/>
<circle cx="71.3" cy="221.8" r="1.95" fill="url(#rg)"/>
<circle cx="89.6" cy="226.8" r="1.95" fill="url(#rg)"/>
<circle cx="95.4" cy="225.3" r="1.95" fill="url(#rg)"/>
<circle cx="99.4" cy="227.1" r="1.95" fill="url(#rg)"/>
<circle cx="103.9" cy="229.3" r="1.95" fill="url(#rg)"/>
<circle cx="107.7" cy="230.8" r="1.95" fill="url(#rg)"/>
<circle cx="108.0" cy="238.9" r="1.95" fill="url(#rg)"/>
<circle cx="101.9" cy="240.9" r="1.95" fill="url(#rg)"/>
<circle cx="87.1" cy="241.1" r="1.95" fill="url(#rg)"/>
<circle cx="71.6" cy="243.4" r="1.95" fill="url(#rg)"/>
<circle cx="103.9" cy="254.2" r="1.95" fill="url(#rg)"/>
<circle cx="76.4" cy="260.7" r="1.95" fill="url(#rg)"/>
<circle cx="118.7" cy="261.7" r="1.95" fill="url(#rg)"/>
<circle cx="124.0" cy="259.9" r="1.95" fill="url(#rg)"/>
<circle cx="73.6" cy="272.7" r="1.95" fill="url(#rg)"/>
<circle cx="98.9" cy="275.5" r="1.95" fill="url(#rg)"/>
<circle cx="101.9" cy="277.2" r="1.95" fill="url(#rg)"/>
<circle cx="81.4" cy="281.5" r="1.95" fill="url(#rg)"/>
<circle cx="123.8" cy="281.7" r="1.95" fill="url(#rg)"/>
<circle cx="117.7" cy="285.5" r="1.95" fill="url(#rg)"/>
<circle cx="111.7" cy="287.0" r="1.95" fill="url(#rg)"/>
<circle cx="130.8" cy="290.3" r="1.95" fill="url(#rg)"/>
<circle cx="111.7" cy="291.5" r="1.95" fill="url(#rg)"/>
<circle cx="114.2" cy="292.8" r="1.95" fill="url(#rg)"/>
<circle cx="118.5" cy="291.5" r="1.95" fill="url(#rg)"/>
<circle cx="95.2" cy="292.0" r="1.95" fill="url(#rg)"/>
<circle cx="101.9" cy="292.8" r="1.95" fill="url(#rg)"/>
<circle cx="81.4" cy="295.8" r="1.95" fill="url(#rg)"/>
<circle cx="103.7" cy="298.3" r="1.95" fill="url(#rg)"/>
<circle cx="81.4" cy="299.0" r="1.95" fill="url(#rg)"/>
<circle cx="85.4" cy="299.3" r="1.95" fill="url(#rg)"/>
<circle cx="118.2" cy="299.8" r="1.95" fill="url(#rg)"/>
<circle cx="111.7" cy="303.0" r="1.95" fill="url(#rg)"/>
<circle cx="73.6" cy="303.5" r="1.95" fill="url(#rg)"/>
<circle cx="117.5" cy="306.1" r="1.95" fill="url(#rg)"/>
<circle cx="98.9" cy="310.3" r="1.95" fill="url(#rg)"/>
<circle cx="87.1" cy="311.8" r="1.95" fill="url(#rg)"/>
<circle cx="85.6" cy="313.3" r="1.95" fill="url(#rg)"/>
<circle cx="113.7" cy="312.8" r="1.95" fill="url(#rg)"/>
<circle cx="117.5" cy="313.8" r="1.95" fill="url(#rg)"/>
<circle cx="130.3" cy="315.8" r="1.95" fill="url(#rg)"/>
<circle cx="89.9" cy="317.1" r="1.95" fill="url(#rg)"/>
<circle cx="89.9" cy="320.6" r="1.95" fill="url(#rg)"/>
<circle cx="113.5" cy="320.8" r="1.95" fill="url(#rg)"/>
<circle cx="123.2" cy="323.9" r="1.95" fill="url(#rg)"/>
<circle cx="107.0" cy="327.4" r="1.95" fill="url(#rg)"/>
<circle cx="130.3" cy="328.6" r="1.95" fill="url(#rg)"/>
</g>
<text x="98" y="391.8" text-anchor="middle" font-family="Liberation Sans, sans-serif" font-weight="bold" font-size="13" fill="#000">(d)</text>
<g transform="translate(245.2,199)">
<line x1="32.30" y1="11.20" x2="34.80" y2="129.08" stroke="#dcdcdc" stroke-width="0.65" />
<line x1="44.60" y1="7.30" x2="47.50" y2="119.30" stroke="#dcdcdc" stroke-width="0.65" />
<line x1="56.70" y1="3.46" x2="58.90" y2="110.52" stroke="#dcdcdc" stroke-width="0.65" />
<line x1="90.20" y1="1.05" x2="91.50" y2="106.12" stroke="#dcdcdc" stroke-width="0.65" />
<line x1="113.20" y1="2.12" x2="114.60" y2="109.05" stroke="#dcdcdc" stroke-width="0.65" />
<line x1="137.30" y1="3.24" x2="137.70" y2="111.97" stroke="#dcdcdc" stroke-width="0.65" />
<line x1="162.10" y1="4.39" x2="160.80" y2="114.90" stroke="#dcdcdc" stroke-width="0.65" />
<line x1="68.40" y1="35.10" x2="173.77" y2="43.90" stroke="#dadada" stroke-width="0.65" />
<line x1="68.40" y1="35.10" x2="15.60" y2="59.83" stroke="#dcdcdc" stroke-width="0.65" />
<line x1="68.40" y1="70.20" x2="172.42" y2="80.50" stroke="#dadada" stroke-width="0.65" />
<line x1="68.40" y1="70.20" x2="17.46" y2="101.97" stroke="#dcdcdc" stroke-width="0.65" />
<line x1="46.60" y1="145.40" x2="91.50" y2="106.10" stroke="#dcdcdc" stroke-width="0.6" />
<line x1="74.00" y1="149.70" x2="114.60" y2="109.00" stroke="#dcdcdc" stroke-width="0.6" />
<line x1="101.50" y1="154.10" x2="137.70" y2="112.00" stroke="#dcdcdc" stroke-width="0.6" />
<line x1="128.90" y1="158.40" x2="160.80" y2="114.90" stroke="#dcdcdc" stroke-width="0.6" />
<line x1="59.30" y1="111.40" x2="165.40" y2="125.10" stroke="#dcdcdc" stroke-width="0.6" />
<line x1="48.50" y1="119.60" x2="157.90" y2="136.40" stroke="#dcdcdc" stroke-width="0.6" />
<line x1="36.50" y1="128.90" x2="151.60" y2="147.20" stroke="#dcdcdc" stroke-width="0.6" />
<line x1="67.60" y1="0.00" x2="68.40" y2="103.20" stroke="#b0b0b0" stroke-width="0.7" />
<line x1="78.00" y1="0.55" x2="175.20" y2="5.00" stroke="#b8b8b8" stroke-width="0.6" stroke-dasharray="7 2"/>
<line x1="68.40" y1="103.20" x2="171.10" y2="116.20" stroke="#8c8c8c" stroke-width="0.65" stroke-dasharray="6 1.5"/>
<line x1="19.20" y1="141.10" x2="68.40" y2="103.20" stroke="#8c8c8c" stroke-width="0.7" />
<line x1="13.70" y1="17.10" x2="65.80" y2="0.80" stroke="#969696" stroke-width="0.7" />
<line x1="175.20" y1="5.00" x2="171.10" y2="116.20" stroke="#808080" stroke-width="0.7" />
<line x1="13.70" y1="17.10" x2="19.20" y2="141.10" stroke="#2a2a2a" stroke-width="0.75" />
<line x1="19.20" y1="141.10" x2="141.10" y2="160.30" stroke="#2a2a2a" stroke-width="0.75" />
<line x1="171.10" y1="116.20" x2="141.10" y2="160.30" stroke="#2a2a2a" stroke-width="0.75" />
<line x1="170.40" y1="115.60" x2="173.00" y2="115.40" stroke="#2a2a2a" stroke-width="0.7" />
<line x1="165.40" y1="125.10" x2="168.00" y2="124.90" stroke="#2a2a2a" stroke-width="0.7" />
<line x1="157.90" y1="136.40" x2="160.50" y2="136.20" stroke="#2a2a2a" stroke-width="0.7" />
<line x1="151.60" y1="147.20" x2="154.20" y2="147.00" stroke="#2a2a2a" stroke-width="0.7" />
<line x1="142.80" y1="159.20" x2="145.40" y2="159.00" stroke="#2a2a2a" stroke-width="0.7" />
<line x1="19.20" y1="141.10" x2="18.40" y2="143.10" stroke="#2a2a2a" stroke-width="0.7" />
<line x1="46.60" y1="145.40" x2="45.80" y2="147.40" stroke="#2a2a2a" stroke-width="0.7" />
<line x1="74.00" y1="149.70" x2="73.20" y2="151.70" stroke="#2a2a2a" stroke-width="0.7" />
<line x1="101.50" y1="154.10" x2="100.70" y2="156.10" stroke="#2a2a2a" stroke-width="0.7" />
<line x1="128.90" y1="158.40" x2="128.10" y2="160.40" stroke="#2a2a2a" stroke-width="0.7" />
<line x1="14.69" y1="39.50" x2="12.89" y2="39.80" stroke="#2a2a2a" stroke-width="0.7" />
<line x1="15.64" y1="60.80" x2="13.84" y2="61.10" stroke="#2a2a2a" stroke-width="0.7" />
<line x1="16.58" y1="82.00" x2="14.78" y2="82.30" stroke="#2a2a2a" stroke-width="0.7" />
<line x1="17.52" y1="103.30" x2="15.72" y2="103.60" stroke="#2a2a2a" stroke-width="0.7" />
<line x1="18.46" y1="124.50" x2="16.66" y2="124.80" stroke="#2a2a2a" stroke-width="0.7" />
<text font-family="Liberation Serif, serif" font-weight="bold" font-style="italic" fill="#111" stroke="#111" stroke-width="0.22" font-size="4.8" text-anchor="middle" transform="translate(12.0,41.5) rotate(-100) scale(1.35,1)" >-5</text>
<text font-family="Liberation Serif, serif" font-weight="bold" font-style="italic" fill="#111" stroke="#111" stroke-width="0.22" font-size="4.8" text-anchor="middle" transform="translate(13.9,84.0) rotate(-100) scale(1.35,1)" >-4</text>
<text font-family="Liberation Serif, serif" font-weight="bold" font-style="italic" fill="#111" stroke="#111" stroke-width="0.22" font-size="4.8" text-anchor="middle" transform="translate(15.8,126.5) rotate(-100) scale(1.35,1)" >-3</text>
<text font-family="Liberation Serif, serif" font-weight="bold" font-style="italic" fill="#222" font-size="4.2" textLength="13.5" lengthAdjust="spacingAndGlyphs" transform="translate(174.4,117.6) rotate(7)">0.90</text>
<text font-family="Liberation Serif, serif" font-weight="bold" font-style="italic" fill="#222" font-size="4.2" textLength="13.5" lengthAdjust="spacingAndGlyphs" transform="translate(169.4,127.1) rotate(7)">0.95</text>
<text font-family="Liberation Serif, serif" font-weight="bold" font-style="italic" fill="#222" font-size="4.2" textLength="13.5" lengthAdjust="spacingAndGlyphs" transform="translate(161.9,138.4) rotate(7)">1.00</text>
<text font-family="Liberation Serif, serif" font-weight="bold" font-style="italic" fill="#222" font-size="4.2" textLength="13.5" lengthAdjust="spacingAndGlyphs" transform="translate(155.6,149.2) rotate(7)">1.05</text>
<text font-family="Liberation Serif, serif" font-weight="bold" font-style="italic" fill="#222" font-size="4.2" textLength="13.5" lengthAdjust="spacingAndGlyphs" transform="translate(146.8,161.2) rotate(7)">1.10</text>
<text font-family="Liberation Serif, serif" font-weight="bold" font-style="italic" fill="#111" stroke="#111" stroke-width="0.22" font-size="5.2" text-anchor="end" textLength="9.5" lengthAdjust="spacingAndGlyphs" transform="translate(18.0,144.8) rotate(-32)">1.00</text>
<text font-family="Liberation Serif, serif" font-weight="bold" font-style="italic" fill="#111" stroke="#111" stroke-width="0.22" font-size="5.2" text-anchor="end" textLength="9.5" lengthAdjust="spacingAndGlyphs" transform="translate(45.4,149.1) rotate(-32)">1.02</text>
<text font-family="Liberation Serif, serif" font-weight="bold" font-style="italic" fill="#111" stroke="#111" stroke-width="0.22" font-size="5.2" text-anchor="end" textLength="9.5" lengthAdjust="spacingAndGlyphs" transform="translate(72.8,153.4) rotate(-32)">1.04</text>
<text font-family="Liberation Serif, serif" font-weight="bold" font-style="italic" fill="#111" stroke="#111" stroke-width="0.22" font-size="5.2" text-anchor="end" textLength="9.5" lengthAdjust="spacingAndGlyphs" transform="translate(100.3,157.8) rotate(-32)">1.06</text>
<text font-family="Liberation Serif, serif" font-weight="bold" font-style="italic" fill="#111" stroke="#111" stroke-width="0.22" font-size="5.2" text-anchor="end" textLength="9.5" lengthAdjust="spacingAndGlyphs" transform="translate(127.7,162.1) rotate(-32)">1.08</text>
<text font-family="Liberation Serif, serif" font-weight="bold" font-style="italic" fill="#111" stroke="#111" stroke-width="0.22" font-size="5.2" textLength="99" lengthAdjust="spacingAndGlyphs" transform="translate(18.7,155.6) rotate(9.5)">Extraction cost/(CNY×10<tspan font-size="3.6" dy="-1.8">7</tspan><tspan dy="1.8">)</tspan></text>
<text font-family="Liberation Serif, serif" font-weight="bold" font-style="italic" fill="#111" stroke="#111" stroke-width="0.22" font-size="5.6" textLength="85" lengthAdjust="spacingAndGlyphs" transform="translate(4.3,43) rotate(88.2)">Sensitivity parameter α</text>
<text font-family="Liberation Sans, sans-serif" font-weight="bold" fill="#222" stroke="#222" stroke-width="0.25" font-size="7.4" textLength="40" lengthAdjust="spacingAndGlyphs" transform="translate(174.5,160) rotate(-58)">Market value/(CNY×10<tspan font-size="4.2" dy="-2.2">8</tspan><tspan dy="2.2">)</tspan></text>
</g>
<g>
<circle cx="316.8" cy="305.5" r="1.45" fill="url(#bg)"/>
<circle cx="318.6" cy="307.1" r="1.45" fill="url(#bg)"/>
<circle cx="321.9" cy="309.6" r="1.45" fill="url(#bg)"/>
<circle cx="326.6" cy="313.6" r="1.45" fill="url(#bg)"/>
<circle cx="331.1" cy="317.3" r="1.45" fill="url(#bg)"/>
<circle cx="332.9" cy="319.1" r="1.45" fill="url(#bg)"/>
<circle cx="334.9" cy="321.1" r="1.45" fill="url(#bg)"/>
<circle cx="340.4" cy="325.6" r="1.45" fill="url(#bg)"/>
<circle cx="344.2" cy="328.9" r="1.45" fill="url(#bg)"/>
<circle cx="346.9" cy="331.1" r="1.45" fill="url(#bg)"/>
<circle cx="348.7" cy="332.9" r="1.45" fill="url(#bg)"/>
<circle cx="351.9" cy="335.1" r="1.45" fill="url(#bg)"/>
<circle cx="358.7" cy="340.4" r="1.45" fill="url(#bg)"/>
<circle cx="362.0" cy="341.9" r="1.45" fill="url(#bg)"/>
<circle cx="362.7" cy="344.2" r="1.45" fill="url(#bg)"/>
<circle cx="367.5" cy="348.4" r="1.45" fill="url(#bg)"/>
<circle cx="374.5" cy="353.7" r="1.45" fill="url(#bg)"/>
<circle cx="330.9" cy="209.3" r="1.95" fill="url(#rg)"/>
<circle cx="332.1" cy="210.0" r="1.95" fill="url(#rg)"/>
<circle cx="348.9" cy="221.1" r="1.95" fill="url(#rg)"/>
<circle cx="357.5" cy="219.8" r="1.95" fill="url(#rg)"/>
<circle cx="364.2" cy="222.3" r="1.95" fill="url(#rg)"/>
<circle cx="318.1" cy="222.8" r="1.95" fill="url(#rg)"/>
<circle cx="316.6" cy="225.1" r="1.95" fill="url(#rg)"/>
<circle cx="334.6" cy="226.8" r="1.95" fill="url(#rg)"/>
<circle cx="330.6" cy="228.8" r="1.95" fill="url(#rg)"/>
<circle cx="369.8" cy="233.6" r="1.95" fill="url(#rg)"/>
<circle cx="363.5" cy="234.6" r="1.95" fill="url(#rg)"/>
<circle cx="340.4" cy="237.4" r="1.95" fill="url(#rg)"/>
<circle cx="326.4" cy="237.9" r="1.95" fill="url(#rg)"/>
<circle cx="318.3" cy="240.9" r="1.95" fill="url(#rg)"/>
<circle cx="321.4" cy="242.9" r="1.95" fill="url(#rg)"/>
<circle cx="349.2" cy="245.9" r="1.95" fill="url(#rg)"/>
<circle cx="369.2" cy="246.9" r="1.95" fill="url(#rg)"/>
<circle cx="326.1" cy="249.2" r="1.95" fill="url(#rg)"/>
<circle cx="340.4" cy="249.7" r="1.95" fill="url(#rg)"/>
<circle cx="346.9" cy="249.2" r="1.95" fill="url(#rg)"/>
<circle cx="321.6" cy="253.7" r="1.95" fill="url(#rg)"/>
<circle cx="364.0" cy="253.2" r="1.95" fill="url(#rg)"/>
<circle cx="376.5" cy="254.7" r="1.95" fill="url(#rg)"/>
<circle cx="326.1" cy="256.7" r="1.95" fill="url(#rg)"/>
<circle cx="344.2" cy="255.9" r="1.95" fill="url(#rg)"/>
<circle cx="332.4" cy="263.9" r="1.95" fill="url(#rg)"/>
<circle cx="321.6" cy="271.5" r="1.95" fill="url(#rg)"/>
<circle cx="357.0" cy="271.0" r="1.95" fill="url(#rg)"/>
<circle cx="352.2" cy="272.2" r="1.95" fill="url(#rg)"/>
<circle cx="346.9" cy="273.2" r="1.95" fill="url(#rg)"/>
<circle cx="334.6" cy="277.0" r="1.95" fill="url(#rg)"/>
<circle cx="332.4" cy="279.0" r="1.95" fill="url(#rg)"/>
<circle cx="334.9" cy="280.5" r="1.95" fill="url(#rg)"/>
<circle cx="317.1" cy="281.5" r="1.95" fill="url(#rg)"/>
<circle cx="368.7" cy="286.3" r="1.95" fill="url(#rg)"/>
<circle cx="363.0" cy="289.5" r="1.95" fill="url(#rg)"/>
<circle cx="358.7" cy="292.8" r="1.95" fill="url(#rg)"/>
<circle cx="348.9" cy="294.3" r="1.95" fill="url(#rg)"/>
<circle cx="343.9" cy="295.0" r="1.95" fill="url(#rg)"/>
<circle cx="317.3" cy="295.3" r="1.95" fill="url(#rg)"/>
<circle cx="352.4" cy="300.0" r="1.95" fill="url(#rg)"/>
<circle cx="319.1" cy="303.5" r="1.95" fill="url(#rg)"/>
<circle cx="330.6" cy="309.8" r="1.95" fill="url(#rg)"/>
<circle cx="340.4" cy="310.8" r="1.95" fill="url(#rg)"/>
<circle cx="344.2" cy="310.1" r="1.95" fill="url(#rg)"/>
<circle cx="358.7" cy="316.6" r="1.95" fill="url(#rg)"/>
<circle cx="363.2" cy="315.8" r="1.95" fill="url(#rg)"/>
<circle cx="375.5" cy="315.8" r="1.95" fill="url(#rg)"/>
<circle cx="358.7" cy="320.8" r="1.95" fill="url(#rg)"/>
<circle cx="362.5" cy="321.8" r="1.95" fill="url(#rg)"/>
<circle cx="346.9" cy="327.1" r="1.95" fill="url(#rg)"/>
<circle cx="352.2" cy="327.4" r="1.95" fill="url(#rg)"/>
<circle cx="375.0" cy="336.6" r="1.95" fill="url(#rg)"/>
<circle cx="356.5" cy="338.6" r="1.95" fill="url(#rg)"/>
</g>
<text x="343" y="391.8" text-anchor="middle" font-family="Liberation Sans, sans-serif" font-weight="bold" font-size="13" fill="#000">(e)</text>
<g transform="translate(490,200)">
<line x1="32.30" y1="11.20" x2="34.80" y2="129.08" stroke="#dcdcdc" stroke-width="0.65" />
<line x1="44.60" y1="7.30" x2="47.50" y2="119.30" stroke="#dcdcdc" stroke-width="0.65" />
<line x1="56.70" y1="3.46" x2="58.90" y2="110.52" stroke="#dcdcdc" stroke-width="0.65" />
<line x1="90.20" y1="1.05" x2="91.50" y2="106.12" stroke="#dcdcdc" stroke-width="0.65" />
<line x1="113.20" y1="2.12" x2="114.60" y2="109.05" stroke="#dcdcdc" stroke-width="0.65" />
<line x1="137.30" y1="3.24" x2="137.70" y2="111.97" stroke="#dcdcdc" stroke-width="0.65" />
<line x1="162.10" y1="4.39" x2="160.80" y2="114.90" stroke="#dcdcdc" stroke-width="0.65" />
<line x1="68.40" y1="35.10" x2="173.77" y2="43.90" stroke="#dadada" stroke-width="0.65" />
<line x1="68.40" y1="35.10" x2="15.60" y2="59.83" stroke="#dcdcdc" stroke-width="0.65" />
<line x1="68.40" y1="70.20" x2="172.42" y2="80.50" stroke="#dadada" stroke-width="0.65" />
<line x1="68.40" y1="70.20" x2="17.46" y2="101.97" stroke="#dcdcdc" stroke-width="0.65" />
<line x1="46.60" y1="145.40" x2="91.50" y2="106.10" stroke="#dcdcdc" stroke-width="0.6" />
<line x1="74.00" y1="149.70" x2="114.60" y2="109.00" stroke="#dcdcdc" stroke-width="0.6" />
<line x1="101.50" y1="154.10" x2="137.70" y2="112.00" stroke="#dcdcdc" stroke-width="0.6" />
<line x1="128.90" y1="158.40" x2="160.80" y2="114.90" stroke="#dcdcdc" stroke-width="0.6" />
<line x1="59.30" y1="111.40" x2="165.40" y2="125.10" stroke="#dcdcdc" stroke-width="0.6" />
<line x1="48.50" y1="119.60" x2="157.90" y2="136.40" stroke="#dcdcdc" stroke-width="0.6" />
<line x1="36.50" y1="128.90" x2="151.60" y2="147.20" stroke="#dcdcdc" stroke-width="0.6" />
<line x1="67.60" y1="0.00" x2="68.40" y2="103.20" stroke="#b0b0b0" stroke-width="0.7" />
<line x1="78.00" y1="0.55" x2="175.20" y2="5.00" stroke="#b8b8b8" stroke-width="0.6" stroke-dasharray="7 2"/>
<line x1="68.40" y1="103.20" x2="171.10" y2="116.20" stroke="#8c8c8c" stroke-width="0.65" stroke-dasharray="6 1.5"/>
<line x1="19.20" y1="141.10" x2="68.40" y2="103.20" stroke="#8c8c8c" stroke-width="0.7" />
<line x1="13.70" y1="17.10" x2="65.80" y2="0.80" stroke="#969696" stroke-width="0.7" />
<line x1="175.20" y1="5.00" x2="171.10" y2="116.20" stroke="#808080" stroke-width="0.7" />
<line x1="13.70" y1="17.10" x2="19.20" y2="141.10" stroke="#2a2a2a" stroke-width="0.75" />
<line x1="19.20" y1="141.10" x2="141.10" y2="160.30" stroke="#2a2a2a" stroke-width="0.75" />
<line x1="171.10" y1="116.20" x2="141.10" y2="160.30" stroke="#2a2a2a" stroke-width="0.75" />
<line x1="170.40" y1="115.60" x2="173.00" y2="115.40" stroke="#2a2a2a" stroke-width="0.7" />
<line x1="165.40" y1="125.10" x2="168.00" y2="124.90" stroke="#2a2a2a" stroke-width="0.7" />
<line x1="157.90" y1="136.40" x2="160.50" y2="136.20" stroke="#2a2a2a" stroke-width="0.7" />
<line x1="151.60" y1="147.20" x2="154.20" y2="147.00" stroke="#2a2a2a" stroke-width="0.7" />
<line x1="142.80" y1="159.20" x2="145.40" y2="159.00" stroke="#2a2a2a" stroke-width="0.7" />
<line x1="19.20" y1="141.10" x2="18.40" y2="143.10" stroke="#2a2a2a" stroke-width="0.7" />
<line x1="46.60" y1="145.40" x2="45.80" y2="147.40" stroke="#2a2a2a" stroke-width="0.7" />
<line x1="74.00" y1="149.70" x2="73.20" y2="151.70" stroke="#2a2a2a" stroke-width="0.7" />
<line x1="101.50" y1="154.10" x2="100.70" y2="156.10" stroke="#2a2a2a" stroke-width="0.7" />
<line x1="128.90" y1="158.40" x2="128.10" y2="160.40" stroke="#2a2a2a" stroke-width="0.7" />
<line x1="14.69" y1="39.50" x2="12.89" y2="39.80" stroke="#2a2a2a" stroke-width="0.7" />
<line x1="15.64" y1="60.80" x2="13.84" y2="61.10" stroke="#2a2a2a" stroke-width="0.7" />
<line x1="16.58" y1="82.00" x2="14.78" y2="82.30" stroke="#2a2a2a" stroke-width="0.7" />
<line x1="17.52" y1="103.30" x2="15.72" y2="103.60" stroke="#2a2a2a" stroke-width="0.7" />
<line x1="18.46" y1="124.50" x2="16.66" y2="124.80" stroke="#2a2a2a" stroke-width="0.7" />
<text font-family="Liberation Serif, serif" font-weight="bold" font-style="italic" fill="#111" stroke="#111" stroke-width="0.22" font-size="4.8" text-anchor="middle" transform="translate(12.0,41.5) rotate(-100) scale(1.35,1)" >-5</text>
<text font-family="Liberation Serif, serif" font-weight="bold" font-style="italic" fill="#111" stroke="#111" stroke-width="0.22" font-size="4.8" text-anchor="middle" transform="translate(13.9,84.0) rotate(-100) scale(1.35,1)" >-4</text>
<text font-family="Liberation Serif, serif" font-weight="bold" font-style="italic" fill="#111" stroke="#111" stroke-width="0.22" font-size="4.8" text-anchor="middle" transform="translate(15.8,126.5) rotate(-100) scale(1.35,1)" >-3</text>
<text font-family="Liberation Serif, serif" font-weight="bold" font-style="italic" fill="#222" font-size="4.2" textLength="13.5" lengthAdjust="spacingAndGlyphs" transform="translate(174.4,117.6) rotate(7)">0.90</text>
<text font-family="Liberation Serif, serif" font-weight="bold" font-style="italic" fill="#222" font-size="4.2" textLength="13.5" lengthAdjust="spacingAndGlyphs" transform="translate(169.4,127.1) rotate(7)">0.95</text>
<text font-family="Liberation Serif, serif" font-weight="bold" font-style="italic" fill="#222" font-size="4.2" textLength="13.5" lengthAdjust="spacingAndGlyphs" transform="translate(161.9,138.4) rotate(7)">1.00</text>
<text font-family="Liberation Serif, serif" font-weight="bold" font-style="italic" fill="#222" font-size="4.2" textLength="13.5" lengthAdjust="spacingAndGlyphs" transform="translate(155.6,149.2) rotate(7)">1.05</text>
<text font-family="Liberation Serif, serif" font-weight="bold" font-style="italic" fill="#222" font-size="4.2" textLength="13.5" lengthAdjust="spacingAndGlyphs" transform="translate(146.8,161.2) rotate(7)">1.10</text>
<text font-family="Liberation Serif, serif" font-weight="bold" font-style="italic" fill="#111" stroke="#111" stroke-width="0.22" font-size="5.2" text-anchor="end" textLength="9.5" lengthAdjust="spacingAndGlyphs" transform="translate(18.0,144.8) rotate(-32)">1.00</text>
<text font-family="Liberation Serif, serif" font-weight="bold" font-style="italic" fill="#111" stroke="#111" stroke-width="0.22" font-size="5.2" text-anchor="end" textLength="9.5" lengthAdjust="spacingAndGlyphs" transform="translate(45.4,149.1) rotate(-32)">1.02</text>
<text font-family="Liberation Serif, serif" font-weight="bold" font-style="italic" fill="#111" stroke="#111" stroke-width="0.22" font-size="5.2" text-anchor="end" textLength="9.5" lengthAdjust="spacingAndGlyphs" transform="translate(72.8,153.4) rotate(-32)">1.04</text>
<text font-family="Liberation Serif, serif" font-weight="bold" font-style="italic" fill="#111" stroke="#111" stroke-width="0.22" font-size="5.2" text-anchor="end" textLength="9.5" lengthAdjust="spacingAndGlyphs" transform="translate(100.3,157.8) rotate(-32)">1.06</text>
<text font-family="Liberation Serif, serif" font-weight="bold" font-style="italic" fill="#111" stroke="#111" stroke-width="0.22" font-size="5.2" text-anchor="end" textLength="9.5" lengthAdjust="spacingAndGlyphs" transform="translate(127.7,162.1) rotate(-32)">1.08</text>
<text font-family="Liberation Serif, serif" font-weight="bold" font-style="italic" fill="#111" stroke="#111" stroke-width="0.22" font-size="5.2" textLength="87" lengthAdjust="spacingAndGlyphs" transform="translate(26,156.8) rotate(9.5)">Mining cost/(CNY×10<tspan font-size="3.6" dy="-1.8">7</tspan><tspan dy="1.8">)</tspan></text>
<text font-family="Liberation Serif, serif" font-weight="bold" font-style="italic" fill="#111" stroke="#111" stroke-width="0.22" font-size="5.6" textLength="85" lengthAdjust="spacingAndGlyphs" transform="translate(4.3,43) rotate(88.2)">Sensitivity parameter α</text>
<text font-family="Liberation Sans, sans-serif" font-weight="bold" fill="#222" stroke="#222" stroke-width="0.25" font-size="7.4" textLength="40" lengthAdjust="spacingAndGlyphs" transform="translate(174.5,160) rotate(-58)">Market value/(CNY×10<tspan font-size="4.2" dy="-2.2">8</tspan><tspan dy="2.2">)</tspan></text>
</g>
<g>
<circle cx="562.1" cy="306.8" r="1.45" fill="url(#bg)"/>
<circle cx="563.9" cy="308.3" r="1.45" fill="url(#bg)"/>
<circle cx="567.2" cy="310.8" r="1.45" fill="url(#bg)"/>
<circle cx="571.9" cy="314.8" r="1.45" fill="url(#bg)"/>
<circle cx="576.2" cy="318.6" r="1.45" fill="url(#bg)"/>
<circle cx="577.9" cy="320.3" r="1.45" fill="url(#bg)"/>
<circle cx="579.9" cy="322.4" r="1.45" fill="url(#bg)"/>
<circle cx="585.5" cy="327.1" r="1.45" fill="url(#bg)"/>
<circle cx="589.0" cy="330.1" r="1.45" fill="url(#bg)"/>
<circle cx="592.2" cy="332.6" r="1.45" fill="url(#bg)"/>
<circle cx="594.2" cy="334.1" r="1.45" fill="url(#bg)"/>
<circle cx="597.2" cy="336.1" r="1.45" fill="url(#bg)"/>
<circle cx="601.5" cy="339.9" r="1.45" fill="url(#bg)"/>
<circle cx="603.5" cy="341.7" r="1.45" fill="url(#bg)"/>
<circle cx="607.3" cy="343.2" r="1.45" fill="url(#bg)"/>
<circle cx="607.8" cy="345.4" r="1.45" fill="url(#bg)"/>
<circle cx="612.8" cy="349.7" r="1.45" fill="url(#bg)"/>
<circle cx="619.6" cy="354.7" r="1.45" fill="url(#bg)"/>
<circle cx="561.1" cy="204.3" r="1.95" fill="url(#rg)"/>
<circle cx="571.2" cy="216.3" r="1.95" fill="url(#rg)"/>
<circle cx="563.1" cy="220.3" r="1.95" fill="url(#rg)"/>
<circle cx="561.6" cy="222.8" r="1.95" fill="url(#rg)"/>
<circle cx="589.5" cy="220.3" r="1.95" fill="url(#rg)"/>
<circle cx="563.4" cy="227.3" r="1.95" fill="url(#rg)"/>
<circle cx="585.5" cy="226.6" r="1.95" fill="url(#rg)"/>
<circle cx="594.5" cy="226.1" r="1.95" fill="url(#rg)"/>
<circle cx="604.8" cy="225.8" r="1.95" fill="url(#rg)"/>
<circle cx="608.8" cy="226.8" r="1.95" fill="url(#rg)"/>
<circle cx="592.5" cy="241.9" r="1.95" fill="url(#rg)"/>
<circle cx="585.7" cy="242.9" r="1.95" fill="url(#rg)"/>
<circle cx="571.4" cy="246.4" r="1.95" fill="url(#rg)"/>
<circle cx="614.8" cy="247.9" r="1.95" fill="url(#rg)"/>
<circle cx="563.4" cy="249.4" r="1.95" fill="url(#rg)"/>
<circle cx="585.7" cy="250.7" r="1.95" fill="url(#rg)"/>
<circle cx="589.5" cy="252.9" r="1.95" fill="url(#rg)"/>
<circle cx="561.9" cy="255.2" r="1.95" fill="url(#rg)"/>
<circle cx="575.7" cy="256.2" r="1.95" fill="url(#rg)"/>
<circle cx="566.7" cy="258.2" r="1.95" fill="url(#rg)"/>
<circle cx="602.0" cy="259.2" r="1.95" fill="url(#rg)"/>
<circle cx="577.4" cy="265.2" r="1.95" fill="url(#rg)"/>
<circle cx="575.7" cy="267.2" r="1.95" fill="url(#rg)"/>
<circle cx="614.3" cy="265.7" r="1.95" fill="url(#rg)"/>
<circle cx="579.9" cy="270.5" r="1.95" fill="url(#rg)"/>
<circle cx="608.5" cy="270.0" r="1.95" fill="url(#rg)"/>
<circle cx="594.2" cy="271.7" r="1.95" fill="url(#rg)"/>
<circle cx="579.9" cy="285.5" r="1.95" fill="url(#rg)"/>
<circle cx="608.8" cy="284.3" r="1.95" fill="url(#rg)"/>
<circle cx="604.3" cy="285.8" r="1.95" fill="url(#rg)"/>
<circle cx="571.4" cy="290.0" r="1.95" fill="url(#rg)"/>
<circle cx="566.9" cy="293.5" r="1.95" fill="url(#rg)"/>
<circle cx="608.8" cy="292.8" r="1.95" fill="url(#rg)"/>
<circle cx="602.0" cy="296.0" r="1.95" fill="url(#rg)"/>
<circle cx="621.1" cy="299.8" r="1.95" fill="url(#rg)"/>
<circle cx="576.9" cy="301.5" r="1.95" fill="url(#rg)"/>
<circle cx="575.7" cy="303.5" r="1.95" fill="url(#rg)"/>
<circle cx="597.5" cy="305.3" r="1.95" fill="url(#rg)"/>
<circle cx="566.7" cy="307.1" r="1.95" fill="url(#rg)"/>
<circle cx="579.9" cy="307.3" r="1.95" fill="url(#rg)"/>
<circle cx="602.0" cy="307.8" r="1.95" fill="url(#rg)"/>
<circle cx="597.5" cy="309.1" r="1.95" fill="url(#rg)"/>
<circle cx="603.8" cy="309.8" r="1.95" fill="url(#rg)"/>
<circle cx="608.3" cy="313.1" r="1.95" fill="url(#rg)"/>
<circle cx="592.0" cy="320.6" r="1.95" fill="url(#rg)"/>
<circle cx="594.0" cy="322.4" r="1.95" fill="url(#rg)"/>
<circle cx="620.6" cy="329.4" r="1.95" fill="url(#rg)"/>
<circle cx="589.2" cy="329.9" r="1.95" fill="url(#rg)"/>
<circle cx="597.2" cy="332.4" r="1.95" fill="url(#rg)"/>
<circle cx="607.3" cy="339.2" r="1.95" fill="url(#rg)"/>
<circle cx="612.8" cy="341.4" r="1.95" fill="url(#rg)"/>
<circle cx="620.1" cy="346.2" r="1.95" fill="url(#rg)"/>
</g>
<text x="588.1" y="391.8" text-anchor="middle" font-family="Liberation Sans, sans-serif" font-weight="bold" font-size="13" fill="#000">(f)</text>
</g></svg></body></html>
